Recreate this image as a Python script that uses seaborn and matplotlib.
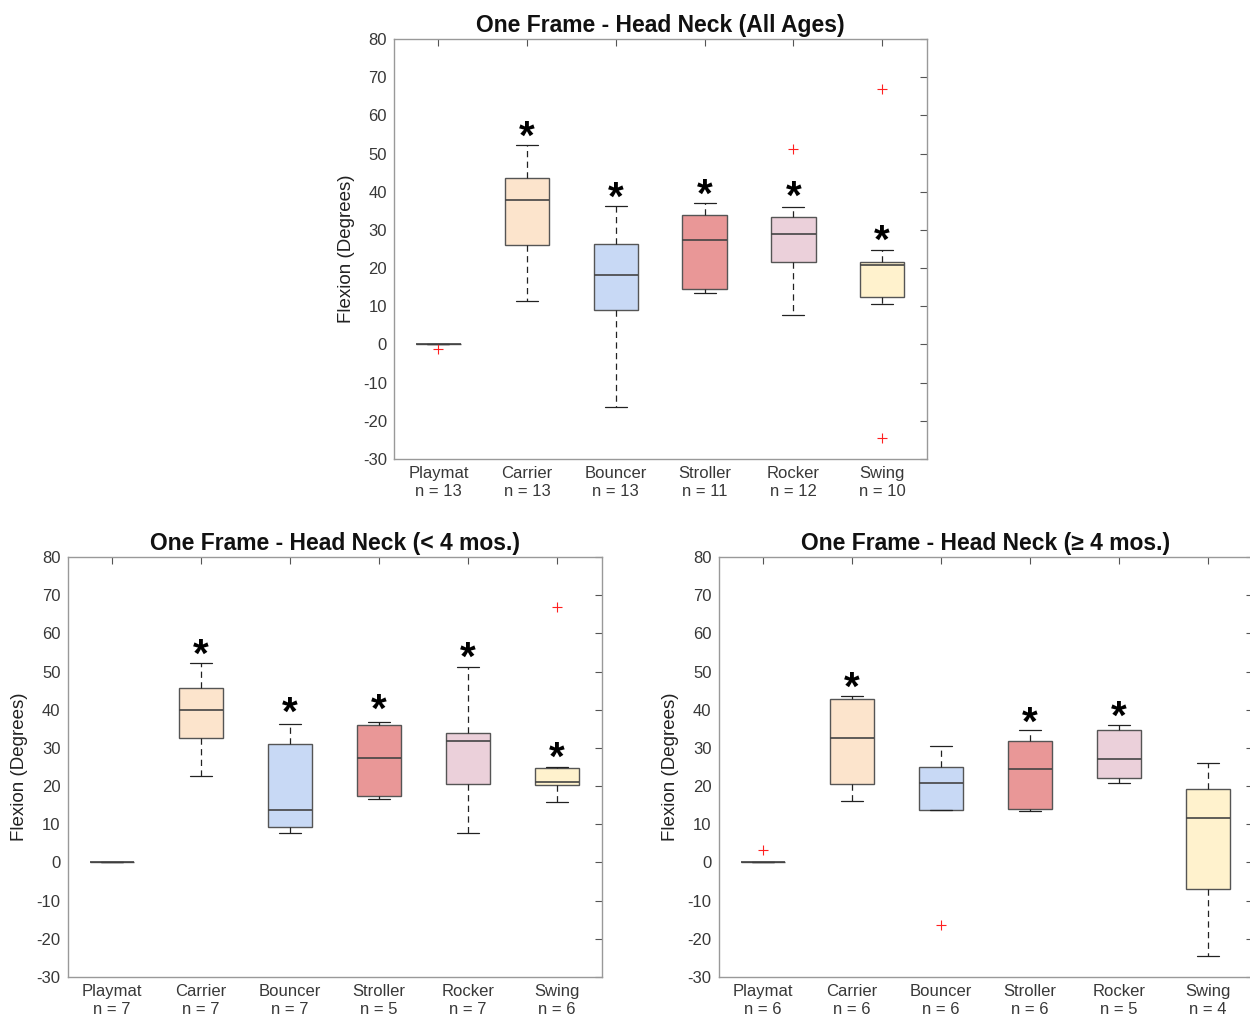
import matplotlib
matplotlib.use("Agg")
import matplotlib.pyplot as plt
import matplotlib.transforms as mtransforms
import seaborn as sns

sns.set_theme(style="white")
plt.rcParams['font.family'] = ['Liberation Sans', 'DejaVu Sans']

categories = ["Playmat", "Carrier", "Bouncer", "Stroller", "Rocker", "Swing"]
box_colors = ["#ffffff", "#fce4cc", "#c8d9f5", "#e99797", "#ebd0da", "#fff2cd"]

# ---- All ages ----
all_n = [13, 13, 13, 11, 12, 10]
all_whislo = [0.0, 11.5, -16.5, 13.4, 7.6, 10.6]
all_q1 = [0.0, 26.0, 9.1, 14.6, 21.5, 12.5]
all_med = [0.0, 37.8, 18.3, 27.3, 28.9, 20.7]
all_q3 = [0.0, 43.5, 26.3, 33.9, 33.3, 21.5]
all_whishi = [0.0, 52.2, 36.3, 37.0, 35.9, 24.8]
all_fliers = [[-1.3], [], [], [], [51.3], [66.9, -24.5]]
all_star = [None, 56.7, 40.7, 41.6, 41.1, 29.6]

# ---- < 4 months ----
lt4_n = [7, 7, 7, 5, 7, 6]
lt4_whislo = [0.0, 22.7, 7.6, 16.5, 7.6, 15.9]
lt4_q1 = [0.0, 32.7, 9.4, 17.3, 20.6, 20.3]
lt4_med = [0.0, 39.9, 13.7, 27.3, 31.7, 21.0]
lt4_q3 = [0.0, 45.7, 30.9, 36.0, 33.8, 24.8]
lt4_whishi = [0.0, 52.2, 36.3, 36.9, 51.3, 24.9]
lt4_fliers = [[], [], [], [], [], [66.9]]
lt4_star = [None, 56.8, 41.6, 42.2, 55.9, 29.8]

# ---- >= 4 months ----
ge4_n = [6, 6, 6, 6, 5, 4]
ge4_whislo = [0.0, 16.1, 13.8, 13.4, 20.7, -24.5]
ge4_q1 = [0.0, 20.5, 13.8, 13.9, 22.2, -6.9]
ge4_med = [0.0, 32.5, 20.9, 24.4, 27.0, 11.6]
ge4_q3 = [0.0, 42.8, 24.9, 31.7, 34.7, 19.3]
ge4_whishi = [0.0, 43.6, 30.4, 34.7, 35.9, 26.0]
ge4_fliers = [[3.2], [], [-16.5], [], [], []]
ge4_star = [None, 48.2, None, 38.9, 40.5, None]

yticks = list(range(-30, 81, 10))

W, H = 1250, 1015
fig = plt.figure(figsize=(W / 100, H / 100), dpi=100)


def px_axes(left, top, right, bottom):
    return fig.add_axes([left / W, 1 - bottom / H, (right - left) / W, (bottom - top) / H])


def draw(ax, title, n, whislo, q1, med, q3, whishi, fliers, star):
    stats = []
    for i in range(len(categories)):
        stats.append(dict(med=med[i], q1=q1[i], q3=q3[i], whislo=whislo[i],
                          whishi=whishi[i], fliers=fliers[i], label=categories[i]))
    pos = list(range(1, len(categories) + 1))
    bp = ax.bxp(stats, positions=pos, widths=0.5, capwidths=0.25, patch_artist=True,
                boxprops=dict(edgecolor="#555555", linewidth=1.0),
                medianprops=dict(color="#444444", linewidth=1.2),
                whiskerprops=dict(color="#222222", linewidth=0.9, linestyle=(0, (5, 3.5))),
                capprops=dict(color="#222222", linewidth=0.9),
                flierprops=dict(marker="+", markeredgecolor="#ff2020", markersize=7,
                                markeredgewidth=0.8, linestyle="none"))
    for patch, c in zip(bp["boxes"], box_colors):
        patch.set_facecolor(c)
    ax.set_xlim(0.5, len(categories) + 0.5)
    ax.set_ylim(-30, 80)
    ax.set_yticks(yticks)
    ax.set_yticklabels([str(t) for t in yticks])
    ax.set_xticks(pos)
    ax.set_xticklabels([f"{c}\nn = {k}" for c, k in zip(categories, n)], linespacing=1.25)
    ax.tick_params(direction="in", top=True, right=True, length=5, width=0.8,
                   color="#555555", labelcolor="#383838", labelsize=12, pad=5)
    for s in ax.spines.values():
        s.set_color("#999999")
        s.set_linewidth(1.0)
    ax.set_ylabel("Flexion (Degrees)", fontsize=13.5, color="#222222", labelpad=6)
    ax.set_title(title, fontsize=16.5, fontweight="bold", color="#111111", pad=5)
    fs = 29
    offset = mtransforms.offset_copy(ax.transData, fig=fig, x=0, y=-0.52 * fs, units="points")
    for p, s in zip(pos, star):
        if s is not None:
            ax.text(p, s, "*", fontsize=fs, fontweight="bold", ha="center", va="baseline",
                    color="black", transform=offset)
    ax.set_facecolor("white")


ax1 = px_axes(394, 39, 926.5, 459)
draw(ax1, "One Frame - Head Neck (All Ages)", all_n, all_whislo, all_q1, all_med, all_q3,
     all_whishi, all_fliers, all_star)

ax2 = px_axes(67.5, 557, 601.5, 977)
draw(ax2, "One Frame - Head Neck (< 4 mos.)", lt4_n, lt4_whislo, lt4_q1, lt4_med, lt4_q3,
     lt4_whishi, lt4_fliers, lt4_star)

ax3 = px_axes(718.5, 557, 1252.5, 977)
draw(ax3, "One Frame - Head Neck (\u2265 4 mos.)", ge4_n, ge4_whislo, ge4_q1, ge4_med, ge4_q3,
     ge4_whishi, ge4_fliers, ge4_star)

fig.savefig("out.png", dpi=100, facecolor="white")
